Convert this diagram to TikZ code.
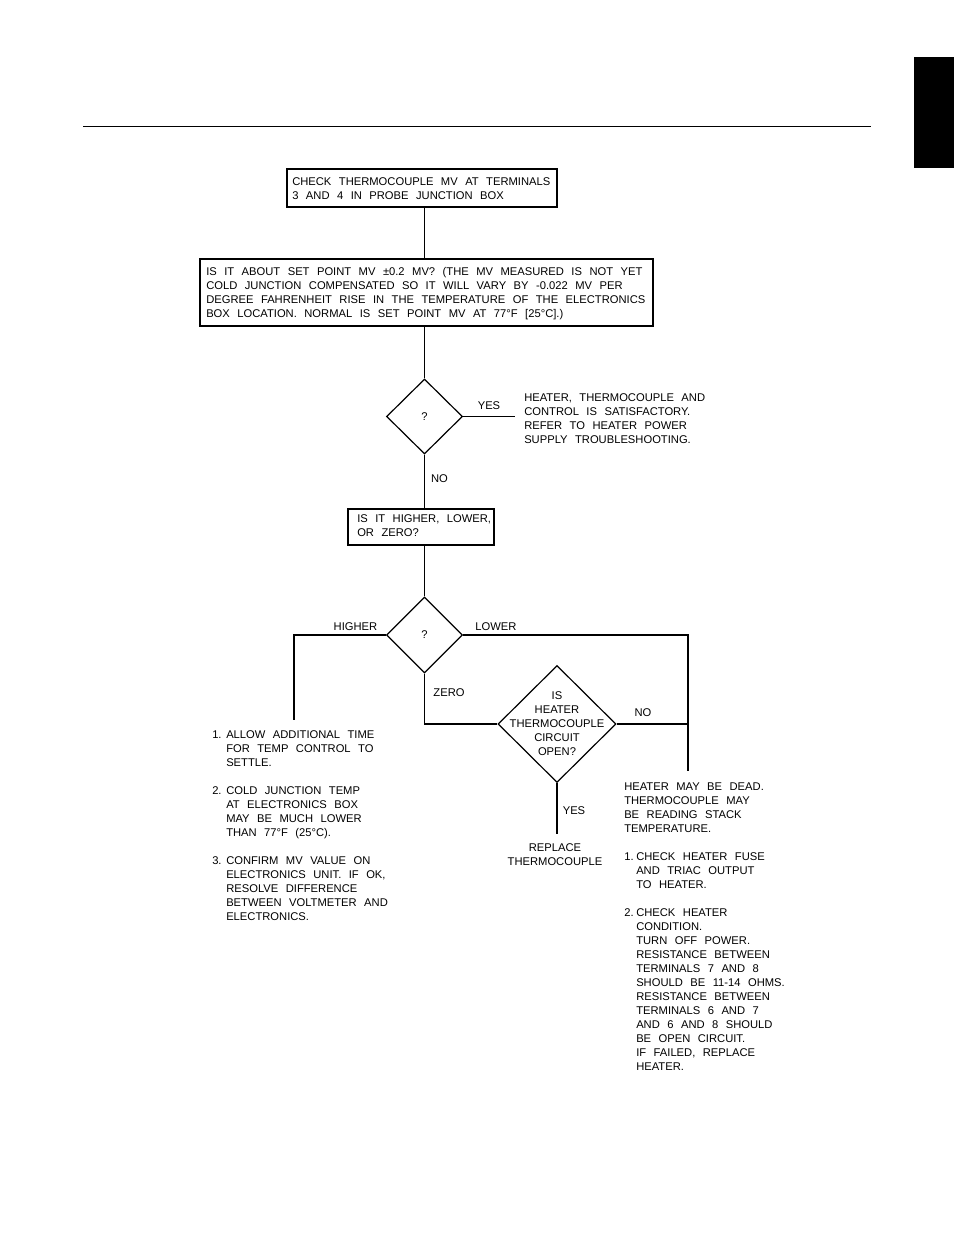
\documentclass[tikz,border=0pt]{standalone}
\usepackage{fontspec}
\setmainfont{Liberation Sans}[WordSpace=2.4]
\usetikzlibrary{shapes.geometric}
\begin{document}
\begin{tikzpicture}[x=0.75pt,y=-0.75pt,
  conn/.style={line width=0.9pt},
  box/.style={draw, line width=1.1pt, inner sep=0},
  dia/.style={draw, diamond, inner sep=0, line width=0.9pt},
  txt/.style={inner sep=0, align=left, font=\fontsize{8.4}{10.5}\selectfont},
  ctxt/.style={inner sep=0, align=center, font=\fontsize{8.4}{10.5}\selectfont},
  lbl/.style={inner sep=0, font=\fontsize{8.4}{10.5}\selectfont}]
\useasboundingbox (0,0) rectangle (954,1235);
% page furniture
\fill (914,57) rectangle (954,168);
\draw[line width=0.6pt] (83,126) -- (871,126);
% boxes
\node[box, minimum width=202.5pt, minimum height=28.5pt] (b1) at (422,188) {};
\node[txt, anchor=north west] (t1) at (292,177) {CHECK THERMOCOUPLE MV AT TERMINALS\\3 AND 4 IN PROBE JUNCTION BOX};
\node[box, minimum width=339.75pt, minimum height=50.25pt] (b2) at (426.5,292.5) {};
\node[txt, anchor=north west] (t2) at (206,267) {IS IT ABOUT SET POINT MV ±0.2 MV? (THE MV MEASURED IS NOT YET\\COLD JUNCTION COMPENSATED SO IT WILL VARY BY -0.022 MV PER\\DEGREE FAHRENHEIT RISE IN THE TEMPERATURE OF THE ELECTRONICS\\BOX LOCATION. NORMAL IS SET POINT MV AT 77°F [25°C].)};
\node[dia, minimum width=57pt, minimum height=56.25pt] (d1) at (424.5,416.5) {};
\node[lbl] (q1) at (d1) {?};
\node[box, minimum width=109.5pt, minimum height=27pt] (b3) at (421,527) {};
\node[txt, anchor=north west] (t3) at (357,514) {IS IT HIGHER, LOWER,\\OR ZERO?};
\node[dia, minimum width=57pt, minimum height=57pt] (d2) at (424.5,635) {};
\node[lbl] (q2) at (d2) {?};
\node[dia, minimum width=88.5pt, minimum height=87.75pt] (d3) at (557,724) {};
\node[ctxt] (q3) at (d3) {IS\\HEATER\\THERMOCOUPLE\\CIRCUIT\\OPEN?};
% free ends
\coordinate (yesend) at (515,416.5);
\coordinate (hiend) at (294,720);
\coordinate (loend) at (688,771);
\coordinate (yes2end) at (557,834);
% connectors
\draw[conn] (b1.south -| d1) -- (b2.north -| d1);
\draw[conn] (b2.south -| d1) -- (d1.north);
\draw[conn] (d1.east) -- (yesend);
\draw[conn] (d1.south) -- (b3.north -| d1);
\draw[conn] (b3.south -| d2) -- (d2.north);
\draw[conn] (d2.west) -| (hiend);
\draw[conn] (d2.east) -| (loend);
\draw[conn] (d2.south) |- (d3.west);
\draw[conn] (d3.east) -- (d3.east -| loend);
\draw[conn] (d3.south) -- (yes2end);
% labels
\node[lbl] (lyes) at (489,406) {YES};
\node[lbl] (lno) at (439.5,479) {NO};
\node[lbl] (lhi) at (355.5,627) {HIGHER};
\node[lbl] (llo) at (496,627) {LOWER};
\node[lbl] (lzero) at (449,693) {ZERO};
\node[lbl] (lno2) at (643,713) {NO};
\node[lbl] (lyes2) at (574,811) {YES};
% text blocks
\node[txt, anchor=north west] (ok) at (524,393) {HEATER, THERMOCOUPLE AND\\CONTROL IS SATISFACTORY.\\REFER TO HEATER POWER\\SUPPLY TROUBLESHOOTING.};
\node[ctxt, anchor=north] (rep) at (555,843) {REPLACE\\THERMOCOUPLE};
\node[txt, anchor=north west] (left) at (212,730) {\makebox[10.5pt][l]{1.}ALLOW ADDITIONAL TIME\\\hspace*{10.5pt}FOR TEMP CONTROL TO\\\hspace*{10.5pt}SETTLE.\\[10.5pt]\makebox[10.5pt][l]{2.}COLD JUNCTION TEMP\\\hspace*{10.5pt}AT ELECTRONICS BOX\\\hspace*{10.5pt}MAY BE MUCH LOWER\\\hspace*{10.5pt}THAN 77°F (25°C).\\[10.5pt]\makebox[10.5pt][l]{3.}CONFIRM MV VALUE ON\\\hspace*{10.5pt}ELECTRONICS UNIT. IF OK,\\\hspace*{10.5pt}RESOLVE DIFFERENCE\\\hspace*{10.5pt}BETWEEN VOLTMETER AND\\\hspace*{10.5pt}ELECTRONICS.};
\node[txt, anchor=north west] (right) at (624,783) {HEATER MAY BE DEAD.\\THERMOCOUPLE MAY\\BE READING STACK\\TEMPERATURE.\\[10.5pt]\makebox[9pt][l]{1.}CHECK HEATER FUSE\\\hspace*{9pt}AND TRIAC OUTPUT\\\hspace*{9pt}TO HEATER.\\[10.5pt]\makebox[9pt][l]{2.}CHECK HEATER\\\hspace*{9pt}CONDITION.\\\hspace*{9pt}TURN OFF POWER.\\\hspace*{9pt}RESISTANCE BETWEEN\\\hspace*{9pt}TERMINALS 7 AND 8\\\hspace*{9pt}SHOULD BE 11-14 OHMS.\\\hspace*{9pt}RESISTANCE BETWEEN\\\hspace*{9pt}TERMINALS 6 AND 7\\\hspace*{9pt}AND 6 AND 8 SHOULD\\\hspace*{9pt}BE OPEN CIRCUIT.\\\hspace*{9pt}IF FAILED, REPLACE\\\hspace*{9pt}HEATER.};
\end{tikzpicture}
\end{document}
